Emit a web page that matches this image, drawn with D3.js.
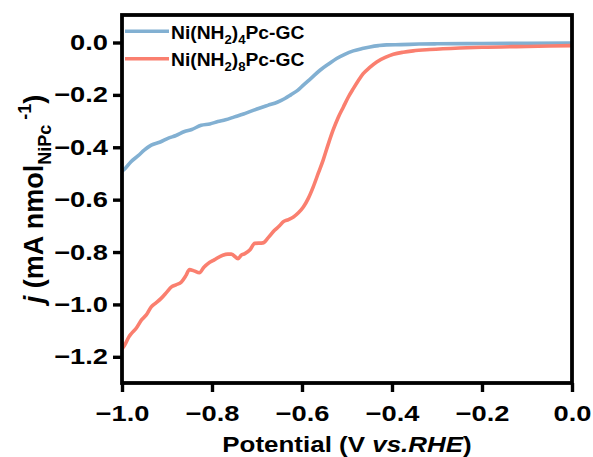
<!DOCTYPE html>
<html><head><meta charset="utf-8">
<script src="https://cdn.jsdelivr.net/npm/d3@7"></script>
<style>
html,body{margin:0;padding:0;background:#fff;}
svg{display:block;font-family:"Liberation Sans",Arial,Helvetica,sans-serif;font-weight:bold;}
</style></head>
<body><svg id="c" width="593" height="457"></svg>
<script>
// ---- data ----
const seriesNames = ["Ni(NH2)4Pc-GC", "Ni(NH2)8Pc-GC"];
const seriesColors = ["#82B0D2", "#FA7F6F"];
const blueX = [-1.000,-0.994,-0.980,-0.964,-0.950,-0.935,-0.915,-0.898,-0.880,-0.861,-0.845,-0.824,-0.805,-0.787,-0.770,-0.750,-0.730,-0.713,-0.695,-0.676,-0.655,-0.638,-0.625,-0.609,-0.597,-0.580,-0.560,-0.540,-0.523,-0.505,-0.486,-0.466,-0.449,-0.430,-0.412,-0.380,-0.340,-0.300,-0.200,-0.100,0.000];
const blueY = [-0.492,-0.483,-0.455,-0.432,-0.410,-0.392,-0.380,-0.366,-0.355,-0.340,-0.332,-0.316,-0.311,-0.302,-0.295,-0.284,-0.273,-0.262,-0.251,-0.240,-0.228,-0.214,-0.200,-0.182,-0.163,-0.137,-0.106,-0.081,-0.061,-0.045,-0.032,-0.023,-0.017,-0.012,-0.009,-0.008,-0.006,-0.005,-0.004,-0.003,-0.002];
const redX = [-1.000,-0.994,-0.985,-0.979,-0.968,-0.957,-0.946,-0.935,-0.925,-0.913,-0.900,-0.890,-0.880,-0.868,-0.858,-0.850,-0.840,-0.828,-0.818,-0.809,-0.795,-0.776,-0.765,-0.757,-0.742,-0.735,-0.727,-0.715,-0.705,-0.687,-0.675,-0.661,-0.650,-0.642,-0.630,-0.619,-0.608,-0.597,-0.586,-0.575,-0.564,-0.553,-0.542,-0.531,-0.520,-0.508,-0.497,-0.486,-0.475,-0.464,-0.450,-0.434,-0.415,-0.397,-0.375,-0.353,-0.316,-0.250,-0.200,-0.100,0.000];
const redY = [-1.170,-1.155,-1.125,-1.111,-1.090,-1.060,-1.040,-1.009,-0.995,-0.977,-0.952,-0.933,-0.925,-0.914,-0.890,-0.867,-0.872,-0.879,-0.858,-0.844,-0.830,-0.812,-0.808,-0.808,-0.825,-0.812,-0.806,-0.790,-0.767,-0.765,-0.745,-0.717,-0.700,-0.685,-0.676,-0.666,-0.650,-0.628,-0.595,-0.551,-0.500,-0.449,-0.390,-0.335,-0.288,-0.246,-0.208,-0.176,-0.146,-0.119,-0.096,-0.074,-0.057,-0.045,-0.037,-0.032,-0.027,-0.021,-0.018,-0.015,-0.012];
const xTicks = [-1.0,-0.8,-0.6,-0.4,-0.2,0.0];
const yTicks = [0.0,-0.2,-0.4,-0.6,-0.8,-1.0,-1.2];
const xTickLabels = ["\u22121.0","\u22120.8","\u22120.6","\u22120.4","\u22120.2","0.0"];
const yTickLabels = ["0.0","\u22120.2","\u22120.4","\u22120.6","\u22120.8","\u22121.0","\u22121.2"];

// ---- layout ----
const L = 122, R = 572, T = 15, B = 383;
const svg = d3.select("#c");
const x = d3.scaleLinear().domain([-1, 0]).range([L, R]);
const y = d3.scaleLinear().domain([-1.3, 0.105]).range([B, T]);

const series = [
  {name: seriesNames[0], color: seriesColors[0], pts: blueX.map((v,i)=>[v, blueY[i]])},
  {name: seriesNames[1], color: seriesColors[1], pts: redX.map((v,i)=>[v, redY[i]])}
];

svg.append("clipPath").attr("id","clip").append("rect")
  .attr("x",L).attr("y",T).attr("width",R-L).attr("height",B-T);

const line = d3.line().x(d=>x(d[0])).y(d=>y(d[1])).curve(d3.curveMonotoneX);
svg.append("g").attr("clip-path","url(#clip)").selectAll("path").data(series).join("path")
  .attr("d", d=>line(d.pts)).attr("fill","none").attr("stroke", d=>d.color)
  .attr("stroke-width",3.6).attr("stroke-linejoin","round").attr("stroke-linecap","round");

// axes
const tickFS = 22, tickSX = 1.24;
const ax = svg.append("g").attr("transform",`translate(0,${B})`)
  .call(d3.axisBottom(x).tickValues(xTicks).tickFormat((d,i)=>xTickLabels[i]).tickSize(9).tickPadding(13));
ax.select(".domain").remove();
ax.selectAll("line").attr("stroke","#000").attr("stroke-width",3.4);
ax.selectAll("text").attr("fill","#000").attr("font-size",tickFS).attr("font-family",null)
  .attr("transform",`scale(${tickSX},1)`);

const ay = svg.append("g").attr("transform",`translate(${L},0)`)
  .call(d3.axisLeft(y).tickValues(yTicks).tickFormat((d,i)=>yTickLabels[i]).tickSize(9).tickPadding(5));
ay.select(".domain").remove();
ay.selectAll("line").attr("stroke","#000").attr("stroke-width",3.4);
ay.selectAll("text").attr("fill","#000").attr("font-size",tickFS).attr("font-family",null)
  .attr("x",0).attr("transform",`translate(-14,0) scale(${tickSX},1)`);

// frame
svg.append("rect").attr("x",L).attr("y",T).attr("width",R-L).attr("height",B-T)
  .attr("fill","none").attr("stroke","#000").attr("stroke-width",3.8);

// legend
const legFS = 17.5, legSX = 1.1;
const leg = svg.append("g");
const legY = [31.3, 58.7];
series.forEach((s,i)=>{
  leg.append("line").attr("x1",125).attr("x2",169).attr("y1",legY[i]).attr("y2",legY[i])
    .attr("stroke",s.color).attr("stroke-width",3.6);
  const t = leg.append("text").attr("transform",`translate(171,${legY[i]+7.5}) scale(${legSX},1)`)
    .attr("font-size",legFS).attr("fill","#000");
  const sub = i===0 ? "4" : "8";
  t.append("tspan").text("Ni(NH");
  t.append("tspan").attr("font-size",12).attr("dy",5).text("2");
  t.append("tspan").attr("dy",-5).text(")");
  t.append("tspan").attr("font-size",12).attr("dy",5).text(sub);
  t.append("tspan").attr("dy",-5).text("Pc-GC");
});

// x label
const xl = svg.append("text").attr("transform",`translate(347,452) scale(1.18,1)`)
  .attr("text-anchor","middle").attr("font-size",22).attr("fill","#000");
xl.append("tspan").text("Potential (V ");
xl.append("tspan").attr("font-style","italic").text("vs.RHE");
xl.append("tspan").text(")");

// y label
const yl = svg.append("text").attr("transform",`translate(43,199) rotate(-90)`)
  .attr("text-anchor","middle").attr("font-size",27).attr("fill","#000");
yl.append("tspan").attr("font-style","italic").text("j");
yl.append("tspan").text(" (mA nmol");
yl.append("tspan").attr("font-size",18).attr("dy",8).text("NiPc");
yl.append("tspan").attr("font-size",18).attr("dy",-20).text(" -1");
yl.append("tspan").attr("dy",12).text(")");
</script></body></html>
